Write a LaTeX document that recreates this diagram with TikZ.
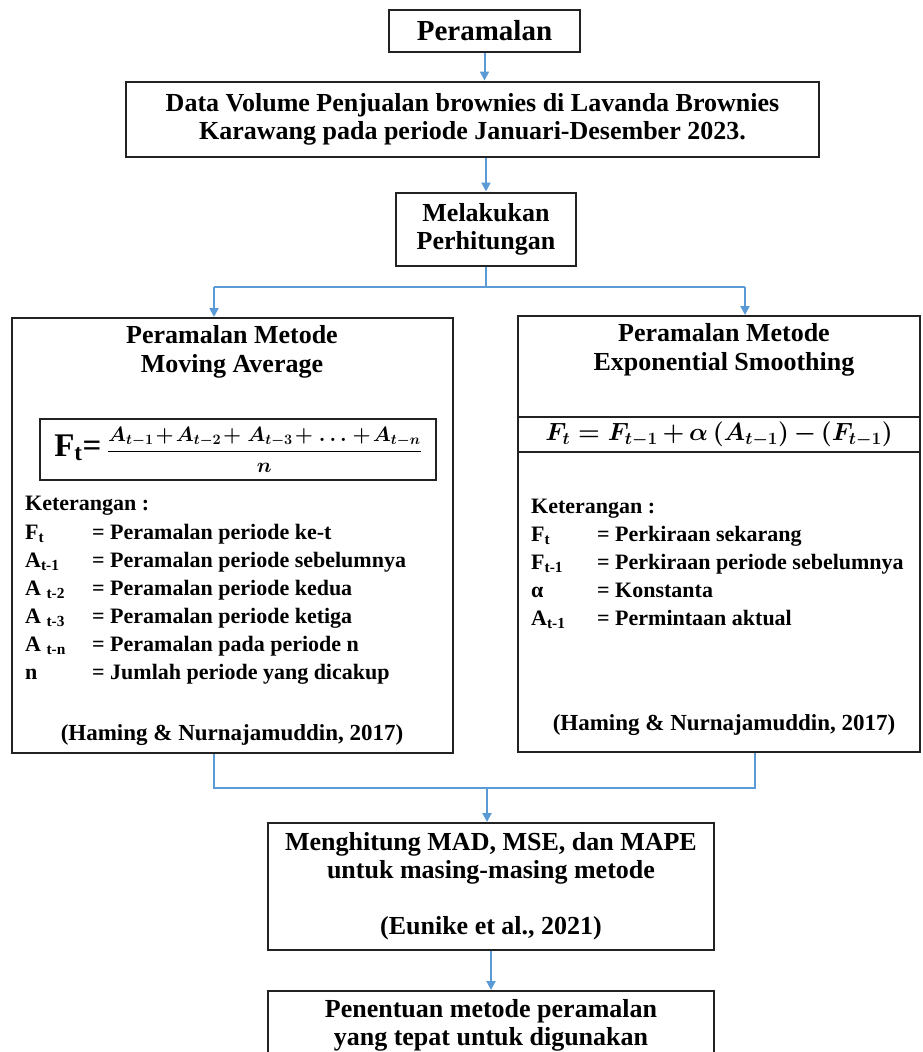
\documentclass[tikz,border=0pt]{standalone}
\usepackage{amsmath}
\usepackage{fontspec}
\setmainfont{Liberation Serif}
\usetikzlibrary{arrows.meta}
\definecolor{flowBlue}{RGB}{91,155,213}
\definecolor{boxLine}{RGB}{34,34,34}

\begin{document}
\begin{tikzpicture}[x=1pt,y=-1pt]
 \tikzset{
  stepBox/.style={rectangle, draw=boxLine, line width=2pt, inner sep=0pt, align=center,
    font=\fontsize{26}{28}\selectfont\bfseries},
  bigBox/.style={rectangle, draw=boxLine, line width=2pt, inner sep=0pt},
  boxTitle/.style={align=center, inner sep=0pt, font=\fontsize{26}{29}\selectfont\bfseries},
  legendText/.style={anchor=base west, inner sep=0pt, font=\fontsize{22}{28}\selectfont\bfseries},
  flowLine/.style={flowBlue, line width=2pt},
  flowArrow/.style={flowLine, -{Triangle[width=9pt,length=9pt]}}
  }
  \clip (0,0) rectangle (922,1052);
  \fill[white] (0,0) rectangle (922,1052);

  % top chain
  \node[stepBox, minimum width=191pt, minimum height=42pt,
        font=\fontsize{29}{32}\selectfont\bfseries] (start) at (484.5,31) {Peramalan};
  \node[stepBox, minimum width=693pt, minimum height=75pt] (data) at (472.5,119)
    {Data Volume Penjualan brownies di Lavanda Brownies\\Karawang pada periode Januari-Desember 2023.};
  \node[stepBox, minimum width=180pt, minimum height=73pt] (calc) at (486,229)
    {Melakukan\\Perhitungan};

  \draw[flowArrow] (start.south) -- (start.south |- data.north);
  \draw[flowArrow] (calc.north |- data.south) -- (calc.north);

  % the two method boxes
  \node[bigBox, minimum width=441pt, minimum height=435pt] (maBox) at (232.5,535.5) {};
  \node[bigBox, minimum width=402pt, minimum height=436pt] (esBox) at (719,534) {};

  % splitting lines
  \coordinate (splitL) at (214,287);
  \coordinate (splitR) at (745,287);
  \draw[flowLine] (calc.south) -- (calc.south |- splitL);
  \draw[flowLine] (splitL) -- (splitR);
  \draw[flowArrow] (splitL) -- (splitL |- maBox.north);
  \draw[flowArrow] (splitR) -- (splitR |- esBox.north);

  % moving average
  \node[boxTitle] (maTitle) at (232,352) {Peramalan Metode\\Moving Average};
  \node[bigBox, minimum width=396pt, minimum height=61pt,
        font=\fontsize{20}{24}\selectfont\bfseries\boldmath] (maFormula) at (238,449.5)
    {{\fontsize{33}{33}\selectfont F\textsubscript{t}=\,}$\medmuskip=1.5mu\displaystyle\frac{A_{t-1}+A_{t-2}+\,A_{t-3}+\,\ldots\,+A_{t-n}}{n}$};
  \node[legendText] (maKet) at (25,510) {Keterangan :};
  \foreach \lbl/\txt [count=\i] in {F\textsubscript{t}/Peramalan periode ke-t,
      A\textsubscript{t-1}/Peramalan periode sebelumnya,
      A \textsubscript{t-2}/Peramalan periode kedua,
      A \textsubscript{t-3}/Peramalan periode ketiga,
      A \textsubscript{t-n}/Peramalan pada periode n,
      n/Jumlah periode yang dicakup} {
    \node[legendText] (maSym\i) at (25,511+28*\i) {\lbl};
    \node[legendText] (maDef\i) at (92,511+28*\i) {= \txt};
  }
  \node[boxTitle, font=\fontsize{23}{26}\selectfont\bfseries] (maSrc) at (232,735)
    {(Haming \& Nurnajamuddin, 2017)};

  % exponential smoothing
  \node[boxTitle] (esTitle) at (724,350) {Peramalan Metode\\Exponential Smoothing};
  \node[bigBox, minimum width=402pt, minimum height=35pt,
        font=\fontsize{23}{26}\selectfont\bfseries\boldmath] (esFormula) at (719,434.5)
    {$\medmuskip=3mu F_t = F_{t-1} + \alpha\,(A_{t-1}) - (F_{t-1})$};
  \node[legendText] (esKet) at (531,513) {Keterangan :};
  \foreach \lbl/\txt [count=\i] in {F\textsubscript{t}/Perkiraan sekarang,
      F\textsubscript{t-1}/Perkiraan periode sebelumnya,
      α/Konstanta,
      A\textsubscript{t-1}/Permintaan aktual} {
    \node[legendText] (esSym\i) at (531,513+28*\i) {\lbl};
    \node[legendText] (esDef\i) at (597,513+28*\i) {= \txt};
  }
  \node[boxTitle, font=\fontsize{23}{26}\selectfont\bfseries] (esSrc) at (724,725)
    {(Haming \& Nurnajamuddin, 2017)};

  % bottom chain
  \node[stepBox, minimum width=446pt, minimum height=127pt] (mad) at (491,886.5)
    {Menghitung MAD, MSE, dan MAPE\\untuk masing-masing metode\\[28pt](Eunike et al., 2021)};
  \node[stepBox, minimum width=446pt, minimum height=68pt] (decide) at (491,1025)
    {Penentuan metode peramalan\\yang tepat untuk digunakan};

  \coordinate (joinL) at (214,788);
  \coordinate (joinR) at (755,788);
  \coordinate (join) at (487,788);
  \draw[flowLine] (joinL |- maBox.south) -- (joinL) -- (joinR) -- (joinR |- esBox.south);
  \draw[flowArrow] (join) -- (join |- mad.north);
  \draw[flowArrow] (mad.south) -- (decide.north);
\end{tikzpicture}
\end{document}
